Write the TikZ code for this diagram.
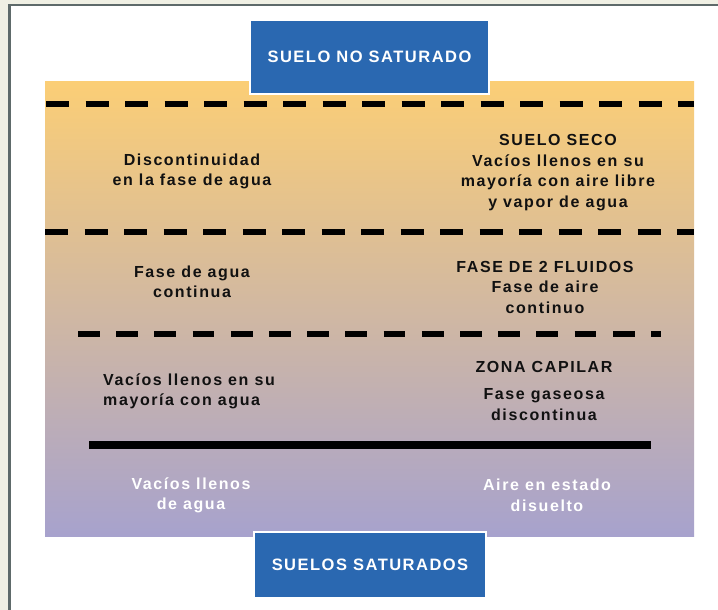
\documentclass[tikz,border=0pt]{standalone}
\usepackage{fontspec}
\setmainfont{Liberation Sans}
\newfontfamily\lbl[LetterSpace=10]{Liberation Sans}
\newfontfamily\boxfont[LetterSpace=9]{Liberation Sans}
\definecolor{beige}{HTML}{F0F0E4}
\definecolor{framegray}{HTML}{5E6A6A}
\definecolor{topyel}{HTML}{FBCE76}
\definecolor{botlav}{HTML}{A7A2CD}
\definecolor{boxblue}{HTML}{2A68B1}
\definecolor{ink}{HTML}{111111}
\begin{document}
\begin{tikzpicture}[x=1pt,y=-1pt,
  txt/.style={font=\lbl\bfseries\fontsize{16}{20.5}\selectfont, align=center, text=ink, inner sep=0pt},
  wtxt/.style={txt, text=white},
  bluebox/.style={fill=boxblue, draw=white, line width=1.5pt, text=white,
    font=\boxfont\bfseries\fontsize{16.5}{18}\selectfont, inner sep=0pt},
  dashline/.style={line width=6pt, dash pattern=on 23pt off 16.5pt},
  solidline/.style={line width=8pt}]
\useasboundingbox (0,0) rectangle (718,610);
\fill[beige] (0,0) rectangle (718,610);
\fill[white] (9.5,5) rectangle (730,620);
\draw[framegray, line width=2.5pt] (9.5,620) -- (9.5,5) -- (730,5);
\shade[top color=topyel, bottom color=botlav] (45,82) rectangle (694,536);
% separators
\coordinate (d1a) at (46,104); \coordinate (d1b) at (694,104);
\coordinate (d2a) at (45,232); \coordinate (d2b) at (694,232);
\coordinate (d3a) at (78,334); \coordinate (d3b) at (661,334);
\coordinate (s1a) at (89,445); \coordinate (s1b) at (651,445);
\draw[dashline] (d1a) -- (d1b);
\draw[dashline] (d2a) -- (d2b);
\draw[dashline, dash pattern=on 21.7pt off 16.5pt] (d3a) -- (d3b);
\draw[solidline] (s1a) -- (s1b);
% boxes
\node[bluebox, minimum width=239pt, minimum height=74pt] (top) at (369.5,57) {SUELO NO SATURADO};
\node[bluebox, minimum width=232pt, minimum height=66pt] (bot) at (370,565) {SUELOS SATURADOS};
% texts
\node[txt] (l1) at (192,171.5) {Discontinuidad\\en la fase de agua};
\node[txt] (r1) at (558,172.5) {SUELO SECO\\Vacíos llenos en su\\mayoría con aire libre\\y vapor de agua};
\node[txt] (l2) at (192,282) {Fase de agua\\continua};
\node[txt] (r2) at (545,287) {FASE DE 2 FLUIDOS\\Fase de aire\\continuo};
\node[txt, align=left, anchor=west] (l3) at (103,391.5) {Vacíos llenos en su\\mayoría con agua};
\node[txt] (r3a) at (544,367) {ZONA CAPILAR};
\node[txt] (r3b) at (544,404.5) {Fase gaseosa\\discontinua};
\node[wtxt] (l4) at (191,495.5) {Vacíos llenos\\de agua};
\node[wtxt] (r4) at (547,495.5) {Aire en estado\\disuelto};
\end{tikzpicture}
\end{document}
